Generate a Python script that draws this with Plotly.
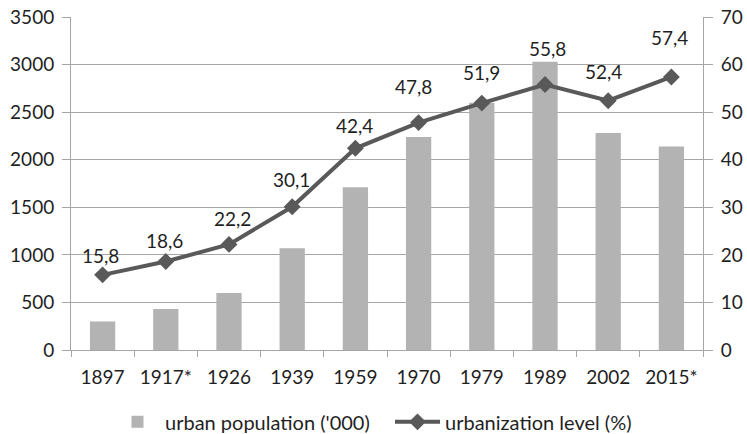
import plotly.graph_objects as go

years = ["1897", "1917*", "1926", "1939", "1959", "1970", "1979", "1989", "2002", "2015*"]
urban_population = [300, 430, 600, 1070, 1710, 2240, 2600, 3030, 2280, 2140]
urbanization_level = [15.8, 18.6, 22.2, 30.1, 42.4, 47.8, 51.9, 55.8, 52.4, 57.4]
left_ticks = [0, 500, 1000, 1500, 2000, 2500, 3000, 3500]
right_ticks = [0, 10, 20, 30, 40, 50, 60, 70]

# label placement (styling, in pixels)
label_dy = [19, 21, 26, 27, 23, 36, 31, 36, 29, 39]
label_dx = [-2, -1, 3, -1, -1, -5, 0, 2, -5, -2]

FONT = "Lato"
TXT = "#1f1f1f"
GRID = "#a6a6a6"

fig = go.Figure()
fig.add_trace(go.Bar(
    x=years, y=urban_population, name="urban population ('000)",
    marker=dict(color="#b3b3b3", line=dict(width=0)), width=0.4, yaxis="y",
    legend="legend",
))
fig.add_trace(go.Scatter(
    x=years, y=urbanization_level, name="urbanization level (%)",
    mode="lines+markers", yaxis="y2", legend="legend2",
    line=dict(color="#595959", width=4),
    marker=dict(symbol="diamond", size=13, color="#595959"),
))

for i, v in enumerate(urbanization_level):
    fig.add_annotation(
        x=i, y=v, yref="y2", xref="x",
        text=f"{v:.1f}".replace(".", ","), showarrow=False,
        yshift=label_dy[i], xshift=label_dx[i],
        font=dict(family=FONT, size=19, color=TXT),
    )

leg_common = dict(orientation="h", xanchor="left", xref="container",
                  y=0.028, yanchor="middle", yref="container",
                  font=dict(family=FONT, size=20, color=TXT), itemwidth=45)

fig.update_layout(
    width=747, height=434,
    margin=dict(l=71, r=44, t=17, b=84, autoexpand=False),
    paper_bgcolor="white", plot_bgcolor="white",
    font=dict(family=FONT, size=19, color=TXT),
    showlegend=True,
    legend=dict(x=110 / 747, **leg_common),
    legend2=dict(x=390 / 747, **leg_common),
    bargap=0.6,
    xaxis=dict(
        type="category", range=[-0.5, len(years) - 0.5], showgrid=False, showline=True,
        linecolor=GRID, linewidth=1, automargin=False,
        ticks="outside", tickson="boundaries", ticklen=6, tickcolor=GRID,
        ticklabelstandoff=10,
        tickfont=dict(family=FONT, size=19, color=TXT),
    ),
    yaxis=dict(
        range=[0, 3500], tickvals=left_ticks, showgrid=True, gridcolor=GRID, gridwidth=1,
        showline=True, linecolor=GRID, linewidth=1, ticks="outside", ticklen=8,
        tickcolor=GRID, zeroline=False, ticklabelstandoff=4, automargin=False,
        tickfont=dict(family=FONT, size=19, color=TXT),
    ),
    yaxis2=dict(
        range=[0, 70], tickvals=right_ticks, overlaying="y", side="right",
        showgrid=False, showline=True, linecolor=GRID, linewidth=1, ticks="outside",
        ticklen=9, tickcolor=GRID, zeroline=False, ticklabelstandoff=4, automargin=False,
        tickfont=dict(family=FONT, size=19, color=TXT),
    ),
)

fig.write_html("out.html")
